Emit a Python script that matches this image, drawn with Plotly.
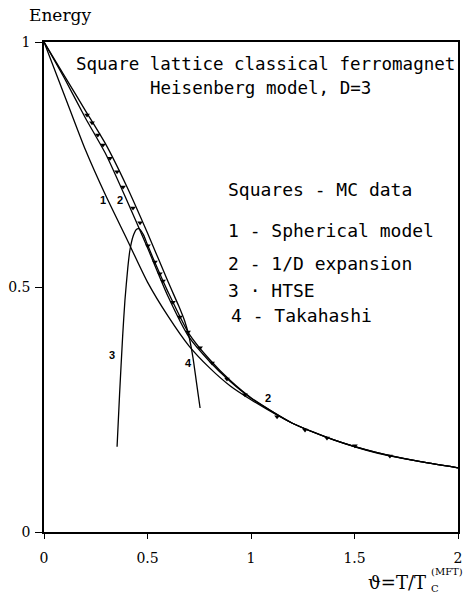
import plotly.graph_objects as go

# Monte Carlo data (squares)
mc_x = [0.208, 0.232, 0.26, 0.285, 0.319, 0.353, 0.382, 0.43, 0.464, 0.502, 0.536, 0.56,
        0.575, 0.623, 0.657, 0.696, 0.754, 0.812, 0.884, 0.971, 1.126, 1.261, 1.367, 1.502, 1.671]
mc_e = [0.851, 0.835, 0.81, 0.79, 0.763, 0.735, 0.704, 0.661, 0.631, 0.584, 0.551, 0.527,
        0.512, 0.469, 0.439, 0.408, 0.376, 0.345, 0.312, 0.28, 0.235, 0.208, 0.192, 0.176, 0.155]

# 1 - Spherical model
sph_x = [0, 0.1, 0.2, 0.3, 0.4, 0.5, 0.6, 0.7, 0.8, 0.9, 1.0, 1.2, 1.4, 1.6, 1.8, 2.0]
sph_e = [1, 0.89, 0.78, 0.685, 0.598, 0.51, 0.44, 0.38, 0.335, 0.298, 0.27, 0.222, 0.188, 0.163, 0.145, 0.131]

# 2 - 1/D expansion
ond_x = [0, 0.1, 0.2, 0.3, 0.4, 0.5, 0.6, 0.7, 0.8, 0.9, 1.0, 1.2, 1.4, 1.6, 1.8, 2.0]
ond_e = [1, 0.925, 0.845, 0.77, 0.677, 0.58, 0.48, 0.398, 0.348, 0.307, 0.273, 0.222, 0.188, 0.162, 0.145, 0.131]

# 3 - HTSE
htse_x = [0.353, 0.365, 0.38, 0.391, 0.405, 0.415, 0.43, 0.445, 0.458, 0.48, 0.5, 0.55, 0.6, 0.7,
          0.8, 0.9, 1.0, 1.2, 1.4, 1.6, 1.8, 2.0]
htse_e = [0.174, 0.28, 0.40, 0.473, 0.54, 0.575, 0.603, 0.617, 0.619, 0.607, 0.586, 0.536, 0.489, 0.405,
          0.352, 0.309, 0.274, 0.222, 0.188, 0.163, 0.145, 0.131]

# 4 - Takahashi
tak_x = [0, 0.1, 0.2, 0.3, 0.4, 0.5, 0.6, 0.65, 0.68, 0.70, 0.72, 0.735, 0.745, 0.754]
tak_e = [1, 0.93, 0.86, 0.79, 0.705, 0.61, 0.51, 0.462, 0.43, 0.40, 0.355, 0.31, 0.28, 0.253]

# curve labels
lab_text = ["1", "2", "3", "4", "2"]
lab_x = [0.285, 0.367, 0.329, 0.696, 1.082]
lab_y = [0.678, 0.678, 0.361, 0.345, 0.273]

legend_lines = ["Squares - MC data", "1 - Spherical model", "2 - 1/D expansion", "3 \u00b7 HTSE", "4 - Takahashi"]

W, H = 463, 595
PL, PR, PT, PB = 44, 458, 42, 532  # plot area in page pixels


def px2paper(px, py):
    return (px - PL) / (PR - PL), (PB - py) / (PB - PT)


fig = go.Figure()
line = dict(color="black", width=1.3)
for xs, ys in [(sph_x, sph_e), (ond_x, ond_e), (htse_x, htse_e), (tak_x, tak_e)]:
    fig.add_trace(go.Scatter(x=xs, y=ys, mode="lines", line=dict(line, shape="spline", smoothing=0.6),
                             showlegend=False, hoverinfo="skip"))
fig.add_trace(go.Scatter(x=mc_x, y=mc_e, mode="markers",
                         marker=dict(symbol="triangle-down", size=5, color="black"),
                         showlegend=False))

for t, x, y in zip(lab_text, lab_x, lab_y):
    fig.add_annotation(x=x, y=y, text="<b>" + t + "</b>", showarrow=False, xref="x", yref="y",
                       font=dict(family="Liberation Sans", size=11, color="black"))

mono = "DejaVu Sans Mono"
serif = "DejaVu Serif"


def text_at(t, px, py, size, family, anchor="left", yanchor="middle"):
    x, y = px2paper(px, py)
    fig.add_annotation(x=x, y=y, xref="paper", yref="paper", text=t, showarrow=False,
                       xanchor=anchor, yanchor=yanchor, font=dict(family=family, size=size, color="black"))


text_at("Square lattice classical ferromagnet", 265, 64, 17.5, mono, "center")
text_at("Heisenberg model, D=3", 260, 88, 17.5, mono, "center")
leg_y = [190, 230, 263, 290, 315]
leg_x = [226, 226, 226, 226, 229]
for t, px, py in zip(legend_lines, leg_x, leg_y):
    text_at(t, px, py, 18, mono)

text_at("Energy", 27, 15, 17, serif)
text_at("\u03d1=T/T", 428, 582, 18, serif, "right")
text_at("C", 429, 588, 10, serif)
text_at("(MFT)", 429, 571, 10, serif)

axis_common = dict(showline=True, linecolor="black", linewidth=1.5, mirror=True, showgrid=False,
                   zeroline=False, ticks="outside", tickcolor="black", automargin=False,
                   tickfont=dict(family=serif, size=14, color="black"))
fig.update_xaxes(range=[0, 2], tickvals=[0, 0.5, 1, 1.5, 2], ticktext=["0", "0.5", "1", "1.5", "2"],
                 ticklen=5, ticklabelstandoff=7, **axis_common)
fig.update_yaxes(range=[0, 1], tickvals=[0, 0.5, 1], ticktext=["0", "0.5", "1"],
                 ticklen=7, ticklabelstandoff=2, **axis_common)
fig.update_layout(width=W, height=H,
                  margin=dict(l=PL, r=W - PR, t=PT, b=H - PB),
                  plot_bgcolor="white", paper_bgcolor="white")
fig.write_html("out.html", config={"displayModeBar": False},
               post_script="document.body.style.margin='0';document.body.style.overflow='hidden';")
